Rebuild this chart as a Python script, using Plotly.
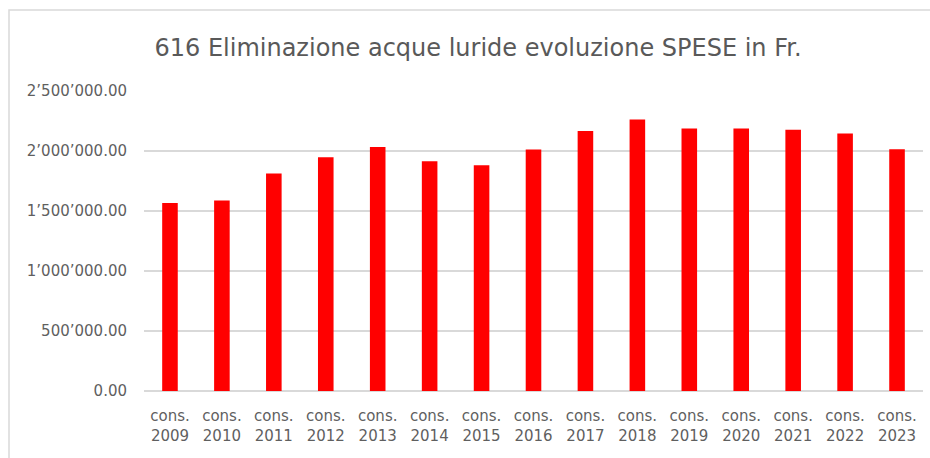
import plotly.graph_objects as go

years = ["2009", "2010", "2011", "2012", "2013", "2014", "2015", "2016",
         "2017", "2018", "2019", "2020", "2021", "2022", "2023"]
categories = ["cons.<br>" + y for y in years]
spese = [1567000, 1587000, 1812000, 1948000, 2033000, 1914000, 1881000, 2012000,
         2167000, 2262000, 2187000, 2187000, 2178000, 2145000, 2014000]
tick_vals = [0, 500000, 1000000, 1500000, 2000000, 2500000]
tick_text = ["0.00", "500’000.00", "1’000’000.00", "1’500’000.00", "2’000’000.00", "2’500’000.00"]

title = "616 Eliminazione acque luride evoluzione SPESE in Fr."

fig = go.Figure(go.Bar(x=categories, y=spese, marker=dict(color="#ff0000", line=dict(width=0))))

fig.update_layout(
    width=930, height=458,
    paper_bgcolor="white", plot_bgcolor="white",
    margin=dict(l=144, r=7, t=91, b=67),
    bargap=0.7,
    showlegend=False,
    title=dict(text=title, x=0.514, xanchor="center", y=0.897, yanchor="middle",
               font=dict(family="DejaVu Sans", size=24, color="#595959")),
    font=dict(family="DejaVu Sans", color="#595959"),
    xaxis=dict(tickfont=dict(size=15, color="#5f5f5f"), showgrid=False,
               showline=False, ticks="", ticklabelstandoff=14),
    yaxis=dict(range=[0, 2500000], tickvals=tick_vals, ticktext=tick_text,
               tickfont=dict(size=15, color="#5f5f5f"), gridcolor="#d9d9d9",
               gridwidth=1.5, zeroline=True, zerolinecolor="#d9d9d9", zerolinewidth=1.5,
               showline=False, ticks="", ticklabelstandoff=16),
    shapes=[dict(type="rect", xref="paper", yref="paper",
                 x0=-0.1733, x1=1.02, y0=-0.3, y1=1.27,
                 line=dict(color="#d9d9d9", width=1.5), fillcolor="rgba(0,0,0,0)")],
)

fig.write_html("out.html", config={"displayModeBar": False},
               post_script="document.body.style.margin='0';document.body.style.overflow='hidden';")
